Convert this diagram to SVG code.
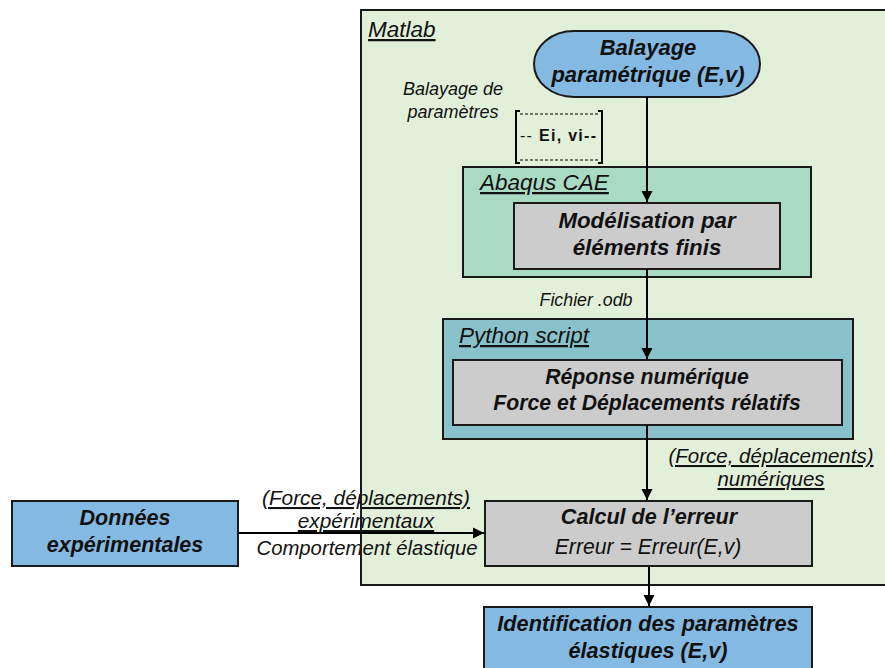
<svg xmlns="http://www.w3.org/2000/svg" width="885" height="668" viewBox="0 0 885 668">
<defs>
<marker id="ah" markerWidth="11" markerHeight="15" refX="10" refY="5" orient="auto" markerUnits="userSpaceOnUse" viewBox="0 0 10 10">
<path d="M0,0 L10,5 L0,10 Z" fill="#000"/>
</marker>
</defs>
<style>
text{font-family:"Liberation Sans",Arial,sans-serif;fill:#111}
.box{stroke:#1a1a1a;stroke-width:2}
.bi{font-weight:bold;font-style:italic}
.it{font-style:italic}
.u{text-decoration:underline}
.c{text-anchor:middle}
.ln{stroke:#000;stroke-width:2;fill:none}
</style>
<rect width="885" height="668" fill="#fff"/>
<g id="matlab">
<rect x="361" y="10" width="530" height="575" fill="#e2f0d9"/>
<text x="368" y="37" class="it u" font-size="22.5">Matlab</text>
</g>
<g id="balayage">
<rect class="box" x="534" y="31" width="226" height="66" rx="40" ry="33" fill="#84b9e2"/>
<text x="648" y="55" class="bi c" font-size="22">Balayage</text>
<text x="648" y="82" class="bi c" font-size="22">paramétrique  (E,v)</text>
</g>
<g id="abaqus">
<rect class="box" x="463" y="167" width="348" height="110" fill="#a9dbc4"/>
<text x="480" y="190" class="it u" font-size="22.5">Abaqus CAE</text>
</g>
<g id="modelisation">
<rect class="box" x="514" y="203" width="266" height="66" fill="#cccccc"/>
<text x="647" y="228" class="bi c" font-size="22.3">Modélisation par</text>
<text x="647" y="255" class="bi c" font-size="22.3">éléments finis</text>
</g>
<g id="python">
<rect class="box" x="443" y="319" width="410" height="120" fill="#89c1cb"/>
<text x="459" y="343" class="it u" font-size="22.5">Python script</text>
</g>
<g id="reponse">
<rect class="box" x="453" y="360" width="389" height="65" fill="#cccccc"/>
<text x="647" y="384" class="bi c" font-size="21.2">Réponse numérique</text>
<text x="647" y="410" class="bi c" font-size="21.2">Force et Déplacements rélatifs</text>
</g>
<g id="donnees">
<rect class="box" x="12" y="501" width="226" height="65" fill="#84b9e2"/>
<text x="125" y="525" class="bi c" font-size="21.5">Données</text>
<text x="125" y="552" class="bi c" font-size="21.5">expérimentales</text>
</g>
<g id="calcul">
<rect class="box" x="485" y="501" width="327" height="65" fill="#cccccc"/>
<text x="649" y="524" class="bi c" font-size="21.6">Calcul de l’erreur</text>
<text x="648" y="554" class="it c" font-size="21.2">Erreur = Erreur(E,v)</text>
</g>
<g id="identification">
<rect class="box" x="484" y="607" width="328" height="70" fill="#84b9e2"/>
<text x="648" y="631" class="bi c" font-size="21.7">Identification des paramètres</text>
<text x="648" y="658" class="bi c" font-size="21.7">élastiques (E,v)</text>
</g>
<g id="ei-vi">
<path class="ln" stroke-width="1.5" d="M520,111 H516 V163 H520 M598,111 H602 V163 H598"/>
<path stroke="#000" stroke-width="1" stroke-dasharray="3,2" d="M520,114 H598 M520,160 H598"/>
<text x="558" y="141" class="c" font-size="16" textLength="76">-- <tspan font-weight="bold">Ei, vi--</tspan></text>
</g>
<g id="labels">
<text x="453" y="95" class="it c" font-size="18">Balayage de</text>
<text x="453" y="118" class="it c" font-size="18">paramètres</text>
<text x="586" y="306" class="it c" font-size="17.8">Fichier .odb</text>
<text x="771" y="463" class="it u c" font-size="20.5">(Force, déplacements)</text>
<text x="771" y="486" class="it u c" font-size="20.5">numériques</text>
<text x="366" y="505" class="it u c" font-size="20.8">(Force, déplacements)</text>
<text x="366" y="528" class="it u c" font-size="20.8">expérimentaux</text>
<text x="367" y="555" class="it c" font-size="20.3">Comportement élastique</text>
</g>
<g id="matlab-border">
<rect x="361" y="10" width="530" height="575" fill="none" stroke="#1a1a1a" stroke-width="2"/>
</g>
<g id="connectors">
<path class="ln" d="M647,97 V202" marker-end="url(#ah)"/>
<path class="ln" d="M647,269 V359" marker-end="url(#ah)"/>
<path class="ln" d="M647,425 V500" marker-end="url(#ah)"/>
<path class="ln" d="M238,533 H484" marker-end="url(#ah)"/>
<path class="ln" d="M649,566 V606" marker-end="url(#ah)"/>
</g>
</svg>
